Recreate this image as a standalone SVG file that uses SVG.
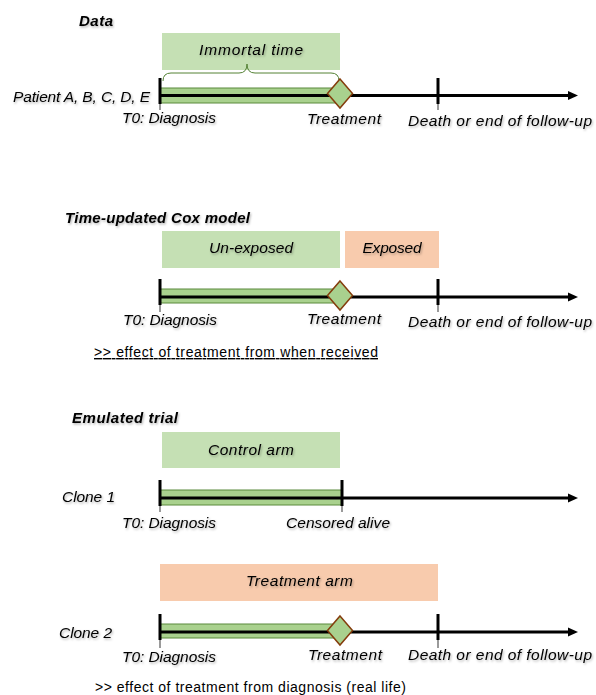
<svg xmlns="http://www.w3.org/2000/svg" width="596" height="695" viewBox="0 0 596 695">
<style>
  text { font-family: "Liberation Sans", Arial, sans-serif; fill: #000; }
  .title { font-size: 15px; font-weight: bold; font-style: italic; filter: url(#sh); }
  .lbl { font-size: 15.5px; font-style: italic; filter: url(#sh); }
  .note { font-size: 14px; }
  .gbox { fill: #c5e0b4; }
  .obox { fill: #f8cbad; }
  .bar { fill: #a9d18e; stroke: #5b8a3c; stroke-width: 1; }
  .axis { stroke: #000; stroke-width: 3; fill: none; }
  .tick { stroke: #000; stroke-width: 3; }
  .tsh { stroke: #9a9a9a; stroke-width: 2; }
  .dia { fill: #a9d18e; stroke: #843c0c; stroke-width: 1.5; }
  .brace { fill: none; stroke: #548235; stroke-width: 1; }
</style>
<defs>
  <filter id="sh" x="-5%" y="-20%" width="110%" height="150%">
    <feDropShadow dx="1" dy="1.5" stdDeviation="0.8" flood-color="#000" flood-opacity="0.3"/>
  </filter>
  <marker id="arr" markerUnits="userSpaceOnUse" markerWidth="10" markerHeight="10" viewBox="0 0 10 10" refX="2" refY="5" orient="auto">
    <path d="M0,0.5 L10,5 L0,9.5 z" fill="#000"/>
  </marker>
</defs>
<rect width="596" height="695" fill="#fff"/>

<!-- Panel 1: Data -->
<g id="title-data"><text class="title" x="79" y="26" textLength="34">Data</text></g>
<g id="box-immortal">
  <rect class="gbox" x="162" y="33" width="178" height="37"/>
  <text class="lbl" x="251" y="55" text-anchor="middle" textLength="104">Immortal time</text>
</g>
<g id="label-patients"><text class="lbl" x="13" y="102" textLength="137">Patient A, B, C, D, E</text></g>

<!-- Panel 2: Time-updated Cox -->
<g id="title-cox"><text class="title" x="65" y="223" textLength="185">Time-updated Cox model</text></g>
<g id="box-unexposed">
  <rect class="gbox" x="162" y="231" width="178" height="37"/>
  <text class="lbl" x="251" y="253" text-anchor="middle" textLength="84">Un-exposed</text>
</g>
<g id="box-exposed">
  <rect class="obox" x="345" y="231" width="94" height="37"/>
  <text class="lbl" x="392" y="253" text-anchor="middle" textLength="59">Exposed</text>
</g>
<g id="note-cox"><text class="note" x="94" y="357" textLength="284" text-decoration="underline">&gt;&gt; effect of treatment from when received</text></g>

<!-- Panel 3: Emulated trial -->
<g id="title-trial"><text class="title" x="72" y="423" textLength="106">Emulated trial</text></g>
<g id="box-control">
  <rect class="gbox" x="162" y="432" width="178" height="36"/>
  <text class="lbl" x="251" y="455" text-anchor="middle" textLength="86">Control arm</text>
</g>
<g id="label-clone1"><text class="lbl" x="62" y="502" textLength="53">Clone 1</text></g>

<!-- Panel 4 -->
<g id="box-treatment">
  <rect class="obox" x="160" y="564" width="278" height="37"/>
  <text class="lbl" x="299.5" y="586" text-anchor="middle" textLength="107">Treatment arm</text>
</g>
<g id="label-clone2"><text class="lbl" x="59" y="638" textLength="53">Clone 2</text></g>
<g id="note-trial"><text class="note" x="95" y="692" textLength="311">&gt;&gt; effect of treatment from diagnosis (real life)</text></g>

<!-- Connectors: timelines -->
<g id="connectors">
  <!-- timeline 1 -->
  <rect class="bar" x="160" y="88" width="178" height="15"/>
  <path class="brace" d="M163,81 Q163,73 171,73 L239,73 Q247,73 247,64 Q247,73 255,73 L331,73 Q339,73 339,81"/>
  <line class="axis" x1="160" y1="95.5" x2="570" y2="95.5" marker-end="url(#arr)"/>
  <line class="tick" x1="160" y1="78" x2="160" y2="104"/>
  <line class="tsh" x1="160" y1="104" x2="160" y2="110"/>
  <line class="tick" x1="438" y1="78" x2="438" y2="104"/>
  <line class="tsh" x1="438" y1="104" x2="438" y2="110"/>

  <!-- timeline 2 -->
  <rect class="bar" x="160" y="289" width="178" height="14"/>
  <line class="axis" x1="160" y1="297" x2="570" y2="297" marker-end="url(#arr)"/>
  <line class="tick" x1="160" y1="279" x2="160" y2="305"/>
  <line class="tsh" x1="160" y1="305" x2="160" y2="312"/>
  <line class="tick" x1="438" y1="279" x2="438" y2="305"/>
  <line class="tsh" x1="438" y1="305" x2="438" y2="312"/>

  <!-- timeline 3 -->
  <rect class="bar" x="160" y="490" width="182" height="15"/>
  <line class="axis" x1="160" y1="498" x2="570" y2="498" marker-end="url(#arr)"/>
  <line class="tick" x1="160" y1="480" x2="160" y2="506"/>
  <line class="tsh" x1="160" y1="506" x2="160" y2="512"/>
  <line class="tick" x1="342" y1="480" x2="342" y2="506"/>
  <line class="tsh" x1="342" y1="506" x2="342" y2="512"/>

  <!-- timeline 4 -->
  <rect class="bar" x="160" y="624" width="178" height="14"/>
  <line class="axis" x1="160" y1="632" x2="570" y2="632" marker-end="url(#arr)"/>
  <line class="tick" x1="160" y1="614" x2="160" y2="640"/>
  <line class="tsh" x1="160" y1="640" x2="160" y2="648"/>
  <line class="tick" x1="438" y1="614" x2="438" y2="640"/>
  <line class="tsh" x1="438" y1="640" x2="438" y2="648"/>
</g>

<!-- Event nodes -->
<g id="event-treatment-1"><polygon class="dia" points="340,79 352.5,93.5 340,108 327.5,93.5"/></g>
<g id="event-treatment-2"><polygon class="dia" points="340,281 352.5,295.5 340,310 327.5,295.5"/></g>
<g id="event-treatment-4"><polygon class="dia" points="340,616 352.5,630.5 340,645 327.5,630.5"/></g>

<!-- Axis labels -->
<g id="labels-1">
  <text class="lbl" x="122" y="123" textLength="94">T0: Diagnosis</text>
  <text class="lbl" x="307" y="124" textLength="74">Treatment</text>
  <text class="lbl" x="408" y="126" textLength="184">Death or end of follow-up</text>
</g>
<g id="labels-2">
  <text class="lbl" x="123" y="325" textLength="94">T0: Diagnosis</text>
  <text class="lbl" x="307" y="324" textLength="74">Treatment</text>
  <text class="lbl" x="408" y="327" textLength="184">Death or end of follow-up</text>
</g>
<g id="labels-3">
  <text class="lbl" x="122" y="528" textLength="94">T0: Diagnosis</text>
  <text class="lbl" x="286" y="528" textLength="104">Censored alive</text>
</g>
<g id="labels-4">
  <text class="lbl" x="122" y="662" textLength="94">T0: Diagnosis</text>
  <text class="lbl" x="308" y="660" textLength="74">Treatment</text>
  <text class="lbl" x="408" y="660" textLength="184">Death or end of follow-up</text>
</g>
</svg>
